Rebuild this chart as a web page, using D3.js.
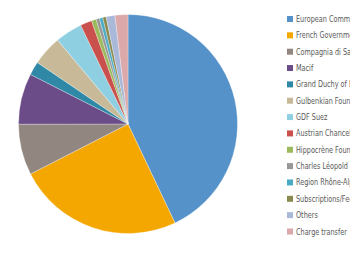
<!DOCTYPE html>
<html>
<head>
<meta charset="utf-8">
<script src="https://cdn.jsdelivr.net/npm/d3@7"></script>
<style>
  body { margin: 0; background: #fff; }
  #chart { width: 350px; height: 260px; overflow: hidden; }
  .legend-label { font-family: 'Liberation Sans Narrow', 'DejaVu Sans Condensed', sans-serif; font-size: 8.8px; fill: #595959; }
</style>
</head>
<body>
<div id="chart"></div>
<script>
const funders = [
  'European Commission',
  'French Government',
  'Compagnia di San Paolo',
  'Macif',
  'Grand Duchy of Luxembourg',
  'Gulbenkian Foundation',
  'GDF Suez',
  'Austrian Chancellery',
  'Hippocrène Foundation',
  'Charles Léopold Mayer Foundation',
  'Region Rhône-Alpes',
  'Subscriptions/Fees',
  'Others',
  'Charge transfer'
];
const shares = [42.9, 24.5, 7.5, 7.5, 2.0, 4.4, 4.0, 1.7, 0.7, 0.5, 0.5, 0.5, 1.3, 1.9];
const colors = [
  '#5592c9', '#f4a700', '#928780', '#6b4c88', '#2f89a6', '#c8ba98', '#8ecfe2',
  '#c9504c', '#9bba5c', '#979797', '#4aabc6', '#8a8a4e', '#aab9da', '#dba9aa'
];

const svg = d3
  .select('#chart')
  .append('svg')
  .attr('width', 350)
  .attr('height', 260);

const pie = d3.pie().sort(null).value((d) => d.value);
const arc = d3.arc().innerRadius(0).outerRadius(109.5);
const color = d3.scaleOrdinal().domain(funders).range(colors);

const data = funders.map((name, i) => ({ name: name, value: shares[i] }));

// Pie slices
svg
  .append('g')
  .attr('transform', 'translate(128, 124)')
  .selectAll('path')
  .data(pie(data))
  .join('path')
  .attr('d', arc)
  .attr('fill', (d) => color(d.data.name))
  .attr('stroke', '#fff')
  .attr('stroke-width', 0.3);

// Legend (labels run past the right edge, as in the original)
const y = d3.scalePoint().domain(funders).range([19, 231.5]);
const legend = svg
  .append('g')
  .selectAll('g')
  .data(funders)
  .join('g')
  .attr('transform', (d) => `translate(287, ${y(d)})`);
legend
  .append('rect')
  .attr('x', 0)
  .attr('y', -3)
  .attr('width', 6)
  .attr('height', 6)
  .attr('fill', (d) => color(d));
legend
  .append('text')
  .attr('class', 'legend-label')
  .attr('transform', 'translate(9, 3) scale(0.82, 1)')
  .text((d) => d);
</script>
</body>
</html>
